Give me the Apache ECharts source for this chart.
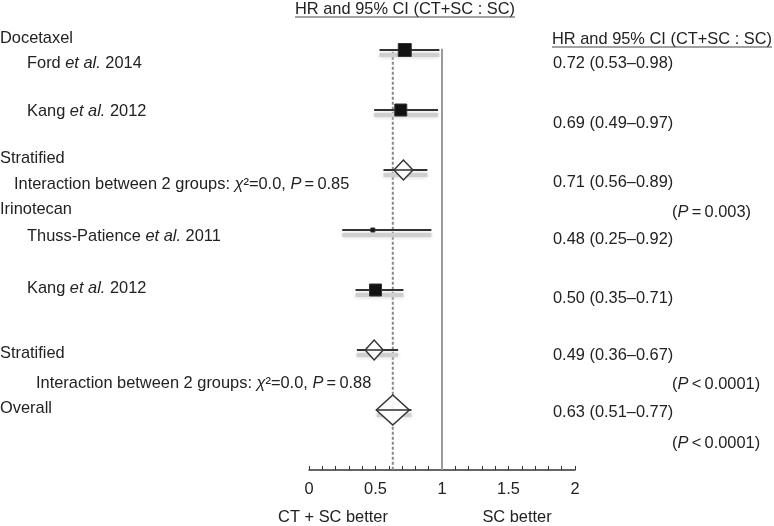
<!DOCTYPE html>
<html><head><meta charset="utf-8">
<script src="https://cdn.jsdelivr.net/npm/echarts@6/dist/echarts.min.js"></script>
<style>html,body{margin:0;padding:0;background:#fff}#c{width:774px;height:526px}</style>
</head><body><div id="c"></div>
<script>
// ---- data ----
const rowNames = ['Ford et al. 2014', 'Kang et al. 2012', 'Stratified (docetaxel)', 'Thuss-Patience et al. 2011', 'Kang et al. 2012', 'Stratified (irinotecan)', 'Overall'];
const hr = [0.72, 0.69, 0.71, 0.48, 0.50, 0.49, 0.63];
const ciLow = [0.53, 0.49, 0.56, 0.25, 0.35, 0.36, 0.51];
const ciHigh = [0.98, 0.97, 0.89, 0.92, 0.71, 0.67, 0.77];
const markerKind = ['square', 'square', 'diamond', 'square', 'square', 'diamond', 'diamond'];
const studyWeight = [13, 12, 19, 4, 12, 18, 33];
const pooledHR = 0.63;
const nullHR = 1;
const xTicks = [0, 0.5, 1, 1.5, 2];

// ---- layout / styles ----
const FONT = "'Liberation Sans', Arial, Helvetica, sans-serif";
const FS = 16.4;
const TXT = '#222';

const chart = echarts.init(document.getElementById('c'));

function renderItem(params, api) {
  const i = params.dataIndex;
  const c = api.coord([api.value(1), api.value(0)]);
  const a = api.coord([api.value(2), api.value(0)]);
  const b = api.coord([api.value(3), api.value(0)]);
  const s = studyWeight[i];
  const children = [
    { type: 'rect', shape: { x: a[0], y: c[1] + 3, width: b[0] - a[0], height: 4 },
      style: { fill: '#cfcfcf', shadowBlur: 4, shadowColor: '#cfcfcf' }, z2: 1 },
    { type: 'line', shape: { x1: a[0], y1: c[1], x2: b[0], y2: c[1] },
      style: { stroke: '#333', lineWidth: 2 }, z2: 2 }
  ];
  if (markerKind[i] === 'square') {
    children.push({ type: 'rect', shape: { x: c[0] - s / 2, y: c[1] - s / 2, width: s, height: s },
      style: { fill: '#111', stroke: '#333', lineWidth: 1 }, z2: 3 });
  } else {
    const w = s, h = (i === 6 ? 30 : 20);
    children.push({ type: 'polygon', shape: { points: [[c[0] - w / 2, c[1]], [c[0], c[1] - h / 2], [c[0] + w / 2, c[1]], [c[0], c[1] + h / 2]] },
      style: { fill: 'rgba(255,255,255,0.9)', stroke: '#333', lineWidth: 1.5 }, z2: 3 });
    children.push({ type: 'line', shape: { x1: c[0] - w / 2, y1: c[1], x2: c[0] + w / 2, y2: c[1] },
      style: { stroke: '#333', lineWidth: 1.5 }, z2: 4 });
  }
  return { type: 'group', children };
}

const data = hr.map((v, i) => [i, v, ciLow[i], ciHigh[i]]);

// text helpers
const ctx = document.createElement('canvas').getContext('2d');
function tw(t, size) { ctx.font = size + 'px ' + FONT; return ctx.measureText(t).width; }
const rich = {
  i: { fontStyle: 'italic', fontSize: FS, fontFamily: FONT, fill: TXT },
  n: { fontSize: FS, fontFamily: FONT, fill: TXT }
};
function label(text, x, y, align) {
  return { type: 'text', x: x, y: y,
    style: { text: text, rich: rich, fontSize: FS, fontFamily: FONT, fill: TXT,
      align: align || 'left', verticalAlign: 'middle' } };
}

const leftLabels = [
  ['{n|Docetaxel}', 0, 38],
  ['{n|Ford }{i|et al.}{n| 2014}', 27, 63],
  ['{n|Kang }{i|et al.}{n| 2012}', 27, 111],
  ['{n|Stratified}', 0, 158],
  ['{n|Interaction between 2 groups: }{i|χ}{n|²=0.0, }{i|P}{n|\u2009=\u20090.85}', 14, 184],
  ['{n|Irinotecan}', 0, 209],
  ['{n|Thuss-Patience }{i|et al.}{n| 2011}', 27, 236],
  ['{n|Kang }{i|et al.}{n| 2012}', 27, 288],
  ['{n|Stratified}', 0, 353],
  ['{n|Interaction between 2 groups: }{i|χ}{n|²=0.0, }{i|P}{n|\u2009=\u20090.88}', 36, 383],
  ['{n|Overall}', 0, 408]
];
const rightY = [63, 123, 182, 239, 298, 355, 412];
const pLabels = [['{n|(}{i|P}{n|\u2009=\u20090.003)}', 212], ['{n|(}{i|P}{n|\u2009<\u20090.0001)}', 384], ['{n|(}{i|P}{n|\u2009<\u20090.0001)}', 443]];

const graphics = [];
leftLabels.forEach(l => graphics.push(label(l[0], l[1], l[2])));
hr.forEach((v, i) => graphics.push(label('{n|' + v.toFixed(2) + ' (' + ciLow[i].toFixed(2) + '–' + ciHigh[i].toFixed(2) + ')}', 553, rightY[i])));
pLabels.forEach(p => graphics.push(label(p[0], 672, p[1])));
const hdr = 'HR and 95% CI (CT+SC : SC)';
const hw = tw(hdr, FS);
graphics.push(label('{n|' + hdr + '}', 552, 39));
graphics.push({ type: 'line', shape: { x1: 552, y1: 47, x2: 552 + hw, y2: 47 }, style: { stroke: '#444', lineWidth: 1 } });
graphics.push(label('{n|' + hdr + '}', 405, 9, 'center'));
graphics.push({ type: 'line', shape: { x1: 405 - hw / 2, y1: 17, x2: 405 + hw / 2, y2: 17 }, style: { stroke: '#444', lineWidth: 1 } });
graphics.push(label('{n|CT + SC better}', 333, 517, 'center'));
graphics.push(label('{n|SC better}', 517, 517, 'center'));

chart.setOption({
  animation: false,
  backgroundColor: '#fff',
  grid: { left: 309, right: 199, top: 2, bottom: 56 },
  xAxis: {
    type: 'value', position: 'bottom', min: xTicks[0], max: xTicks[xTicks.length - 1], interval: 0.5,
    axisLine: { onZero: false, lineStyle: { color: '#333', width: 1.5 } },
    axisTick: { inside: true, length: 4, lineStyle: { color: '#333' } },
    minorTick: { show: true, splitNumber: 5, length: 4, lineStyle: { color: '#333' } },
    splitLine: { show: false },
    axisLabel: { fontSize: FS, fontFamily: FONT, color: TXT, margin: 11,
      formatter: v => (xTicks.indexOf(v) >= 0 ? String(v) : '') }
  },
  yAxis: { type: 'value', min: -0.8, max: 7, inverse: true, show: false },
  series: [
    { type: 'line', data: [[nullHR, -0.02], [nullHR, 7]], symbol: 'none', silent: true,
      lineStyle: { color: '#999', width: 2 }, z: 1 },
    { type: 'line', data: [[pooledHR, 0.03], [pooledHR, 7]], symbol: 'none', silent: true,
      lineStyle: { color: '#888', width: 2, type: [3, 2] }, z: 1 },
    { type: 'custom', renderItem: renderItem, data: data, encode: { x: [1, 2, 3], y: 0 }, z: 5 }
  ],
  graphic: graphics
});
</script></body></html>
